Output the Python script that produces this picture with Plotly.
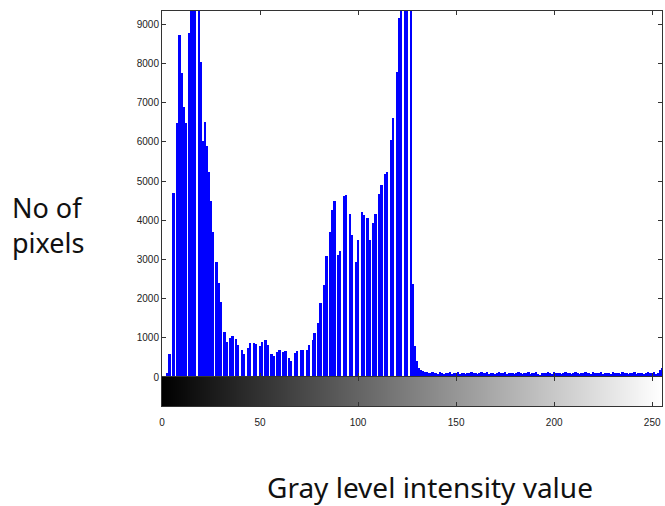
import plotly.graph_objects as go

# Gray level histogram (bins 0..255)
counts_0_134 = [
    0, 0, 0, 110, 590, 0, 4700, 0, 6470, 8720,
    7750, 6900, 6470, 0, 8790, 12000, 12000, 12000, 0, 12000,
    8030, 6020, 6500, 5900, 5220, 4500, 3700, 0, 2940, 2400,
    1910, 0, 1150, 900, 0, 1000, 1050, 0, 980, 815,
    0, 690, 590, 0, 740, 870, 0, 870, 850, 0,
    790, 900, 0, 940, 815, 0, 590, 540, 0, 640,
    690, 0, 640, 660, 0, 480, 415, 0, 615, 660,
    0, 680, 690, 0, 690, 815, 0, 940, 1130, 0,
    1375, 1900, 0, 2350, 3090, 0, 3710, 4260, 4500, 0,
    3110, 3220, 0, 4620, 4640, 0, 4170, 3620, 0, 2940,
    3490, 0, 4220, 4130, 0, 4070, 3490, 0, 3920, 4170,
    0, 4680, 4900, 0, 5190, 5230, 0, 6060, 6600, 0,
    7790, 9150, 12000, 0, 12000, 12000, 0, 12000, 2370, 800,
    400, 220, 180, 160, 140,
]
counts_135_255 = [
    130, 110, 95, 120, 90, 105, 80, 115, 100, 85,
    110, 95, 120, 75, 100, 90, 115, 85, 105, 95,
    80, 110, 95, 125, 90, 100, 75, 105, 115, 90,
    95, 120, 85, 100, 110, 80, 95, 115, 90, 105,
    120, 85, 100, 95, 110, 75, 90, 130, 100, 85,
    105, 95, 115, 80, 100, 90, 120, 85, 60, 110,
    95, 105, 125, 90, 80, 115, 100, 95, 110, 85,
    100, 120, 90, 105, 80, 95, 115, 100, 85, 110,
    95, 125, 90, 100, 80, 115, 95, 105, 90, 120,
    85, 100, 110, 95, 80, 115, 90, 105, 100, 85,
    120, 95, 110, 80, 100, 90, 115, 85, 105, 95,
    110, 80, 100, 120, 90, 95, 130, 85, 110, 180,
    240,
]
counts = counts_0_134 + counts_135_255
levels = list(range(256))

y_ticks = [0, 1000, 2000, 3000, 4000, 5000, 6000, 7000, 8000, 9000]
x_ticks = [0, 50, 100, 150, 200, 250]

fig = go.Figure()
fig.add_trace(go.Bar(
    x=levels, y=counts, width=1.0,
    marker=dict(color="#0000FF", line=dict(width=0)),
    xaxis="x", yaxis="y", showlegend=False,
))
fig.add_trace(go.Heatmap(
    x=levels, y=[0.5], z=[levels],
    colorscale=[[0, "black"], [1, "white"]],
    showscale=False, xaxis="x2", yaxis="y2", hoverinfo="skip",
))

band = 29 / 395
axis_common = dict(showline=True, linecolor="#333333", linewidth=1,
                   ticks="inside", ticklen=4, tickcolor="#333333",
                   showgrid=False, zeroline=False, automargin=False)
fig.update_layout(
    width=665, height=506,
    margin=dict(l=162, r=3, t=11, b=100),
    paper_bgcolor="white", plot_bgcolor="white",
    bargap=0,
    font=dict(family="Liberation Sans", size=10, color="#222222"),
    xaxis=dict(anchor="y", range=[0, 255], tickvals=x_ticks,
               showticklabels=False, mirror="ticks", **axis_common),
    yaxis=dict(domain=[band, 1], range=[0, 9340], tickvals=y_ticks,
               ticktext=[str(v) for v in y_ticks], mirror="ticks",
               **axis_common),
    xaxis2=dict(anchor="y2", matches="x", range=[0, 255], tickvals=x_ticks,
                ticktext=[str(v) for v in x_ticks], mirror="ticks",
                ticklabelstandoff=7, **axis_common),
    yaxis2=dict(domain=[0, band], range=[0, 1], anchor="x2",
                showticklabels=False, showline=True, linecolor="#333333",
                linewidth=1, mirror=True, ticks="", showgrid=False,
                zeroline=False, automargin=False),
    annotations=[
        dict(text="No of<br>pixels", xref="paper", yref="paper",
             x=-0.228, y=0.458, xanchor="center", yanchor="middle",
             showarrow=False, align="left",
             font=dict(family="Noto Sans", size=27, color="#111111")),
        dict(text="Gray level intensity value", xref="paper", yref="paper",
             x=0.536, y=-0.205, xanchor="center", yanchor="middle",
             showarrow=False,
             font=dict(family="Noto Sans", size=28, color="#111111")),
    ],
)

fig.write_html("out.html",
               config={"displayModeBar": False},
               post_script="document.body.style.margin='0';document.body.style.padding='0';")
